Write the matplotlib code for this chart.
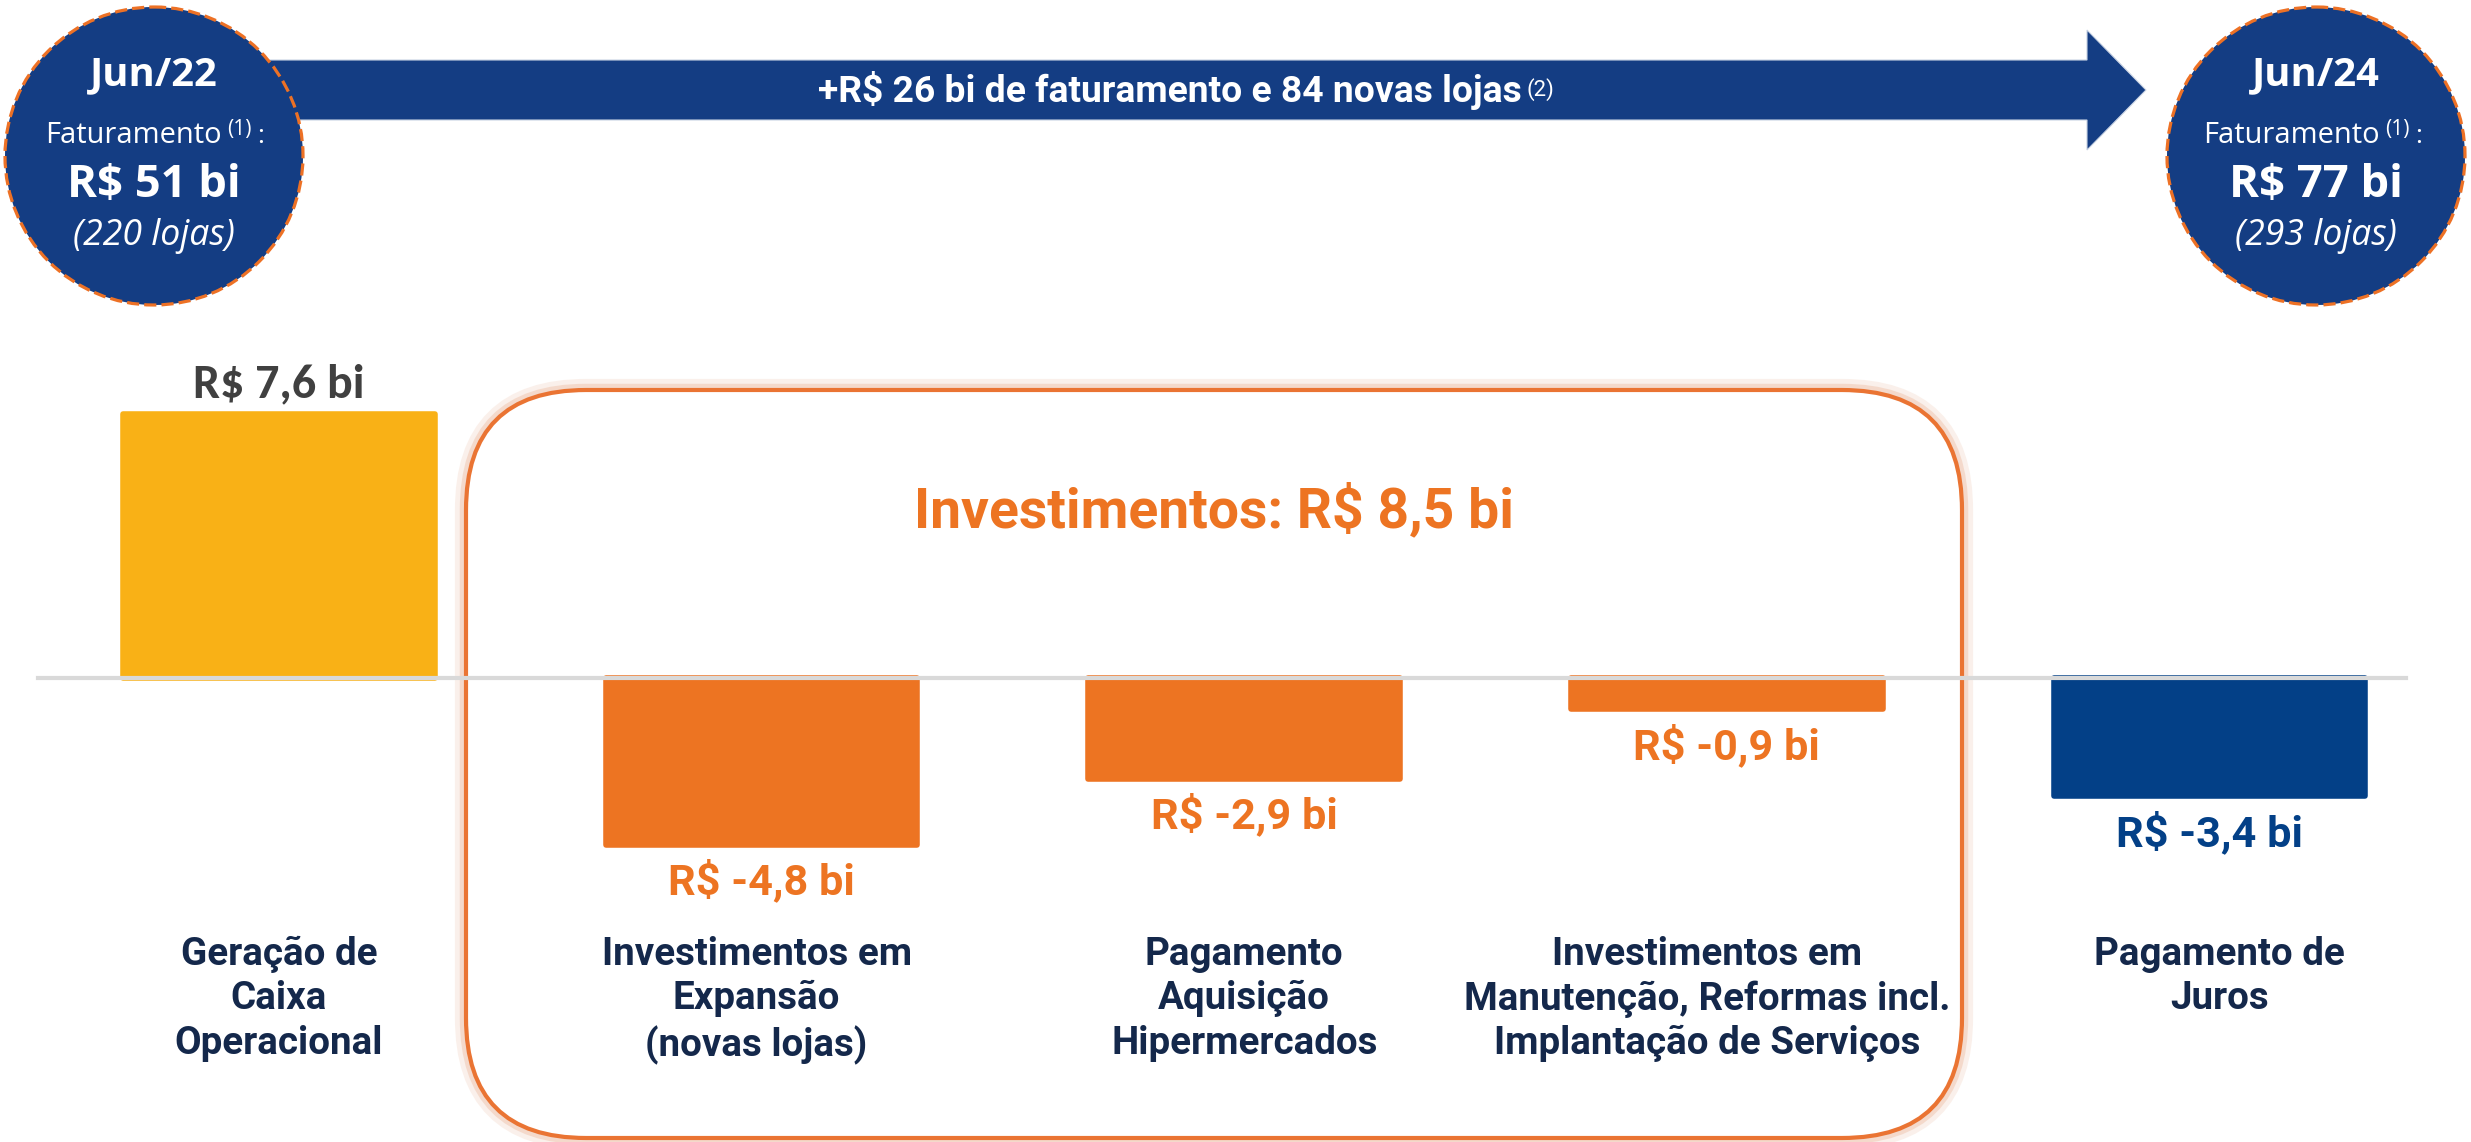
import matplotlib
matplotlib.use("Agg")
import matplotlib.pyplot as plt
from matplotlib import font_manager as fm
from matplotlib.patches import Circle, FancyBboxPatch, Polygon
from matplotlib.transforms import blended_transform_factory
import matplotlib.patheffects as pe

# ---------------- data ----------------
categories = [
    "Geração de\nCaixa\nOperacional",
    "Investimentos em\nExpansão\n(novas lojas)",
    "Pagamento\nAquisição\nHipermercados",
    "Investimentos em\nManutenção, Reformas incl.\nImplantação de Serviços",
    "Pagamento de\nJuros",
]
values = [7.6, -4.8, -2.9, -0.9, -3.4]
value_labels = ["R$ 7,6 bi", "R$ -4,8 bi", "R$ -2,9 bi", "R$ -0,9 bi", "R$ -3,4 bi"]
bar_colors = ["#F9B116", "#ED7422", "#ED7422", "#ED7422", "#034087"]
label_colors = ["#404040", "#ED7422", "#ED7422", "#ED7422", "#034087"]
invest_title = "Investimentos: R$ 8,5 bi"
periods = ["Jun/22", "Jun/24"]
revenue_word = "Faturamento"
revenues = ["R$ 51 bi", "R$ 77 bi"]
stores = ["(220 lojas)", "(293 lojas)"]
growth_text = "+R$ 26 bi de faturamento e 84 novas lojas"


def has_font(name):
    try:
        fm.findfont(fm.FontProperties(family=name), fallback_to_default=False)
        return True
    except Exception:
        return False


COND = "Liberation Sans Narrow" if has_font("Liberation Sans Narrow") else "Roboto"
ROUND = "Open Sans" if has_font("Open Sans") else "DejaVu Sans"
CAL = "Carlito" if has_font("Carlito") else "Lato"

NAVY = "#143D83"
ORANGE = "#ED7422"
DARK = "#14284B"

W, H = 2471, 1142
fig = plt.figure(figsize=(W / 100, H / 100), dpi=100)
deco = fig.add_axes([0, 0, 1, 1])
deco.set_xlim(0, W)
deco.set_ylim(H, 0)
deco.axis("off")

ax = fig.add_axes([0, 0, 1, 1], facecolor="none")
ax.axis("off")
px_per_unit = 34.7
baseline_px = 678
spacing = 482.6
first_center = 279
ax.set_xlim(-first_center / spacing, (W - first_center) / spacing)
ax.set_ylim(-(H - baseline_px) / px_per_unit, baseline_px / px_per_unit)

renderer = fig.canvas.get_renderer()


def fit(t, target):
    bb = t.get_window_extent(renderer)
    t.set_fontsize(t.get_fontsize() * target / bb.width)
    return t


# ---------------- investment box ----------------
box = FancyBboxPatch((466, 390), 1496, 748,
                     boxstyle="round,pad=0,rounding_size=120",
                     fc="white", ec="#EA7433", lw=3, zorder=1)
box.set_path_effects([pe.Stroke(linewidth=16, foreground="#F3D6C6", alpha=0.35),
                      pe.Stroke(linewidth=9, foreground="#EFC4AC", alpha=0.5),
                      pe.Normal()])
deco.add_patch(box)
t = deco.text(1214, 527, invest_title, ha="center", va="baseline",
              color=ORANGE, fontsize=34, fontweight="bold", family=COND, zorder=5)
fit(t, 600)

# ---------------- arrow + circles ----------------
arrow = Polygon([(250, 60), (2087, 60), (2087, 30), (2146, 90), (2087, 150),
                 (2087, 120), (250, 120)], closed=True, fc=NAVY, ec="#C9D3E3",
                lw=0.8, zorder=2)
deco.add_patch(arrow)
t = deco.text(818, 102, growth_text, ha="left", va="baseline", color="white",
              fontsize=26, fontweight="bold", family=COND, zorder=5)
fit(t, 705)
deco.text(1527, 96, "(2)", ha="left", va="baseline", color="white",
          fontsize=16, family=COND, zorder=5)

circ_x = [154, 2316]
fat_left = [45, 2203]
for i, cx in enumerate(circ_x):
    c = Circle((cx, 156), 149, fc=NAVY, ec="#ED7125", lw=2.3,
               ls=(0, (3.8, 1.6)), zorder=3)
    deco.add_patch(c)
    t = deco.text(cx, 85, periods[i], ha="center", va="baseline", color="white",
                  fontsize=27, fontweight="bold", family=ROUND, zorder=5)
    fit(t, 128)
    t = deco.text(fat_left[i], 143, revenue_word, ha="left", va="baseline",
                  color="white", fontsize=20, family=ROUND, zorder=5)
    fit(t, 176)
    deco.text(fat_left[i] + 182, 135, "(1)", ha="left", va="baseline",
              color="white", fontsize=15, family=ROUND, zorder=5)
    deco.text(fat_left[i] + 212, 143, ":", ha="left", va="baseline",
              color="white", fontsize=19, family=ROUND, zorder=5)
    t = deco.text(cx, 197, revenues[i], ha="center", va="baseline", color="white",
                  fontsize=33, fontweight="bold", family=ROUND, zorder=5)
    fit(t, 174)
    t = deco.text(cx, 245, stores[i], ha="center", va="baseline", color="white",
                  fontsize=26, fontstyle="italic", family=ROUND, zorder=5)
    fit(t, 162)

# ---------------- bars ----------------
x = list(range(len(values)))
lw_pt = 4
bar_w = (317 - lw_pt / 0.72) / spacing
ax.bar(x, values, width=bar_w, color=bar_colors, edgecolor=bar_colors,
       linewidth=lw_pt, joinstyle="round", zorder=2)
ax.axhline(0, xmin=38 / W, xmax=2406 / W, color="#D9D9D9", lw=3, zorder=3)

for i, (v, lbl) in enumerate(zip(values, value_labels)):
    if v >= 0:
        t = ax.annotate(lbl, xy=(i, v), xytext=(0, 17 * 0.72), textcoords="offset points",
                        ha="center", va="baseline", color=label_colors[i],
                        fontsize=26, fontweight="bold", family=CAL, zorder=5)
        fit(t, 172)
    else:
        t = ax.annotate(lbl, xy=(i, v), xytext=(0, -50 * 0.72), textcoords="offset points",
                        ha="center", va="baseline", color=label_colors[i],
                        fontsize=26, fontweight="bold", family=COND, zorder=5)
        fit(t, 187)

# category labels
cat_dx = [0, -5, 0, -20, 10]  # small horizontal nudges (pixels)
trans = blended_transform_factory(ax.transData, deco.transData)
cat_targets = [211, 311, 267, 486, 251]
cat_texts = []
scales = []
for i, cat in enumerate(categories):
    t = ax.annotate(cat, xy=(i, 936), xycoords=trans,
                    xytext=(cat_dx[i] * 0.72, 0), textcoords="offset points",
                    ha="center", va="top", multialignment="center", color=DARK,
                    fontsize=26, fontweight="bold", family=COND,
                    linespacing=1.25, zorder=5)
    cat_texts.append(t)
    scales.append(cat_targets[i] / t.get_window_extent(renderer).width)
scales.sort()
s = scales[len(scales) // 2]
for t in cat_texts:
    t.set_fontsize(26 * s)

fig.savefig("out.png", dpi=100, facecolor="white")
